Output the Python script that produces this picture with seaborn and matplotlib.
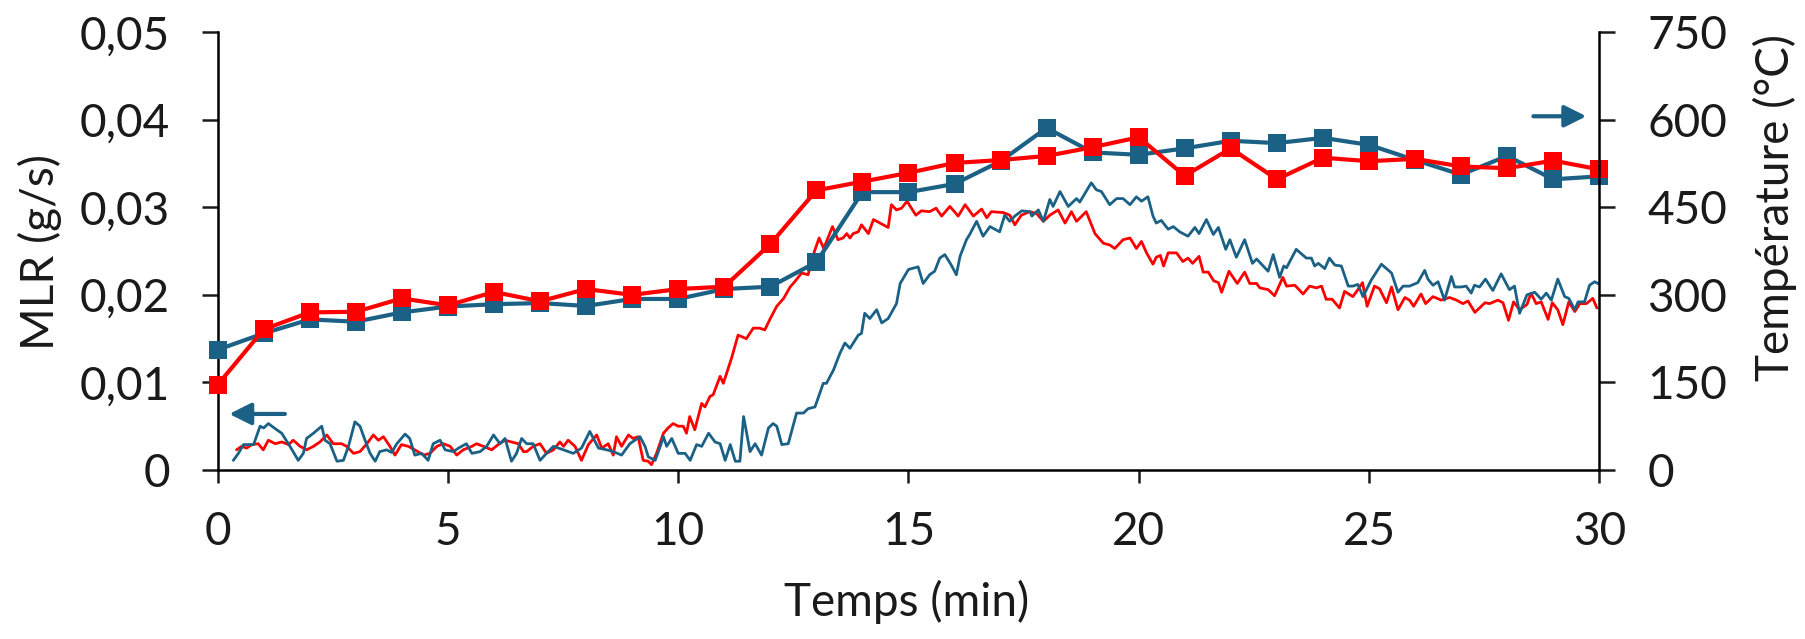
import matplotlib
matplotlib.use("Agg")
import matplotlib.pyplot as plt
import seaborn as sns
import numpy as np

# ---------------- data ----------------
temp_time = list(range(0, 31))
temp_blue = [206, 234, 258, 254, 270, 280, 284, 286, 281, 293, 293, 310, 314, 356, 476,
             476, 490, 529, 586, 544, 540, 551, 564, 560, 569, 557, 531, 506, 538, 498, 503]
temp_red = [146, 241, 270, 271, 294, 282, 305, 289, 310, 300, 310, 314, 387, 479, 494,
            509, 526, 531, 538, 553, 570, 504, 551, 498, 535, 529, 533, 520, 517, 530, 515]

mlr_blue_t = [0.34, 0.45, 0.56, 0.78, 0.92, 1.00, 1.10, 1.28, 1.39, 1.57, 1.75, 1.86, 1.93, 2.08,
              2.26, 2.33, 2.44, 2.59, 2.73, 2.84, 2.98, 3.09, 3.20, 3.31, 3.42, 3.52, 3.67, 3.78,
              3.89, 4.07, 4.17, 4.28, 4.43, 4.57, 4.68, 4.83, 4.94, 5.12, 5.23, 5.40, 5.52, 5.70,
              5.84, 5.99, 6.13, 6.24, 6.38, 6.49, 6.60, 6.71, 6.85, 7.00, 7.14, 7.29, 7.51, 7.72,
              7.90, 8.08, 8.27, 8.45, 8.59, 8.77, 8.95, 9.17, 9.28, 9.35, 9.50, 9.61, 9.68, 9.75,
              9.86, 10.00, 10.15, 10.26, 10.40, 10.51, 10.66, 10.80, 10.91, 11.02, 11.13, 11.24,
              11.34, 11.42, 11.56, 11.67, 11.81, 11.96, 12.06, 12.14, 12.25, 12.39, 12.57, 12.72,
              12.82, 12.97, 13.15, 13.22, 13.37, 13.51, 13.62, 13.73, 13.91, 13.98, 14.05, 14.16,
              14.31, 14.42, 14.56, 14.74, 14.82, 15.00, 15.21, 15.32, 15.46, 15.57, 15.68, 15.79,
              15.93, 16.04, 16.12, 16.26, 16.33, 16.48, 16.62, 16.77, 16.98, 17.09, 17.20, 17.31,
              17.46, 17.64, 17.68, 17.82, 17.93, 18.07, 18.14, 18.29, 18.47, 18.65, 18.72, 18.97,
              19.08, 19.19, 19.37, 19.52, 19.66, 19.81, 19.95, 20.06, 20.20, 20.31, 20.38, 20.49,
              20.64, 20.75, 20.89, 21.07, 21.22, 21.31, 21.47, 21.62, 21.73, 21.89, 21.98, 22.12,
              22.30, 22.47, 22.56, 22.81, 22.92, 23.06, 23.15, 23.21, 23.42, 23.64, 23.75, 23.82,
              23.90, 24.04, 24.14, 24.26, 24.40, 24.55, 24.65, 24.76, 24.87, 25.05, 25.27, 25.49,
              25.63, 25.74, 25.88, 26.06, 26.21, 26.28, 26.39, 26.50, 26.64, 26.79, 26.86, 27.00,
              27.11, 27.22, 27.29, 27.40, 27.53, 27.69, 27.87, 28.05, 28.16, 28.27, 28.43, 28.60,
              28.74, 28.85, 28.96, 29.10, 29.25, 29.34, 29.47, 29.54, 29.68, 29.79, 29.90, 29.97]
mlr_blue = [0.0011, 0.0019, 0.0029, 0.0029, 0.0050, 0.0048, 0.0053, 0.0046, 0.0042, 0.0027,
            0.0011, 0.0019, 0.0036, 0.0042, 0.0050, 0.0034, 0.0030, 0.0010, 0.0011, 0.0027,
            0.0055, 0.0050, 0.0034, 0.0019, 0.0010, 0.0021, 0.0023, 0.0020, 0.0030, 0.0041,
            0.0036, 0.0017, 0.0019, 0.0011, 0.0030, 0.0034, 0.0023, 0.0021, 0.0025, 0.0030,
            0.0019, 0.0021, 0.0027, 0.0040, 0.0030, 0.0036, 0.0010, 0.0019, 0.0036, 0.0030,
            0.0030, 0.0011, 0.0019, 0.0027, 0.0023, 0.0019, 0.0025, 0.0044, 0.0025, 0.0023,
            0.0021, 0.0017, 0.0030, 0.0038, 0.0027, 0.0015, 0.0011, 0.0027, 0.0038, 0.0027,
            0.0036, 0.0019, 0.0019, 0.0011, 0.0029, 0.0027, 0.0042, 0.0032, 0.0030, 0.0011,
            0.0029, 0.0010, 0.0010, 0.0061, 0.0021, 0.0030, 0.0017, 0.0048, 0.0053, 0.0050,
            0.0029, 0.0030, 0.0065, 0.0065, 0.0070, 0.0072, 0.0099, 0.0099, 0.0114, 0.0133,
            0.0145, 0.0139, 0.0154, 0.0156, 0.0179, 0.0173, 0.0183, 0.0168, 0.0173, 0.0190,
            0.0213, 0.0229, 0.0232, 0.0213, 0.0223, 0.0227, 0.0242, 0.0246, 0.0234, 0.0223,
            0.0244, 0.0263, 0.0269, 0.0284, 0.0267, 0.0278, 0.0272, 0.0291, 0.0284, 0.0290,
            0.0296, 0.0295, 0.0290, 0.0297, 0.0284, 0.0309, 0.0301, 0.0318, 0.0301, 0.0310,
            0.0306, 0.0328, 0.0320, 0.0318, 0.0303, 0.0310, 0.0310, 0.0303, 0.0312, 0.0307,
            0.0312, 0.0290, 0.0282, 0.0285, 0.0275, 0.0278, 0.0272, 0.0267, 0.0277, 0.0270,
            0.0286, 0.0269, 0.0277, 0.0252, 0.0263, 0.0243, 0.0263, 0.0236, 0.0241, 0.0227,
            0.0246, 0.0220, 0.0233, 0.0231, 0.0252, 0.0242, 0.0242, 0.0233, 0.0236, 0.0230,
            0.0242, 0.0234, 0.0233, 0.0210, 0.0210, 0.0212, 0.0198, 0.0217, 0.0235, 0.0225,
            0.0203, 0.0210, 0.0210, 0.0214, 0.0228, 0.0218, 0.0211, 0.0215, 0.0194, 0.0221,
            0.0209, 0.0209, 0.0210, 0.0202, 0.0211, 0.0209, 0.0218, 0.0205, 0.0224, 0.0206,
            0.0210, 0.0179, 0.0200, 0.0203, 0.0195, 0.0202, 0.0194, 0.0218, 0.0198, 0.0196,
            0.0183, 0.0192, 0.0192, 0.0211, 0.0215, 0.0213]

mlr_red_t = [0.41, 0.52, 0.63, 0.74, 0.88, 0.99, 1.10, 1.25, 1.39, 1.54, 1.64, 1.79, 1.93, 2.08,
             2.22, 2.37, 2.51, 2.69, 2.80, 2.95, 3.09, 3.24, 3.38, 3.49, 3.60, 3.74, 3.85, 3.99,
             4.14, 4.28, 4.47, 4.61, 4.76, 4.90, 5.05, 5.19, 5.33, 5.52, 5.62, 5.77, 5.95, 6.09,
             6.24, 6.38, 6.53, 6.64, 6.71, 6.85, 7.00, 7.14, 7.29, 7.43, 7.51, 7.61, 7.76, 7.90,
             8.05, 8.23, 8.34, 8.48, 8.59, 8.66, 8.77, 8.92, 9.02, 9.13, 9.24, 9.35, 9.42, 9.53,
             9.68, 9.78, 9.89, 10.00, 10.11, 10.18, 10.25, 10.36, 10.51, 10.58, 10.69, 10.76,
             10.91, 10.98, 11.16, 11.30, 11.48, 11.63, 11.77, 11.88, 12.00, 12.14, 12.29, 12.43,
             12.53, 12.68, 12.82, 12.96, 13.06, 13.16, 13.35, 13.47, 13.58, 13.66, 13.73, 13.80,
             13.91, 13.98, 14.13, 14.24, 14.38, 14.56, 14.63, 14.74, 14.85, 14.97, 15.16, 15.28,
             15.46, 15.60, 15.72, 15.90, 16.08, 16.23, 16.41, 16.59, 16.70, 16.80, 17.06, 17.20,
             17.31, 17.45, 17.63, 17.78, 17.93, 18.07, 18.25, 18.40, 18.54, 18.65, 18.86, 19.05,
             19.23, 19.37, 19.48, 19.66, 19.81, 19.95, 20.06, 20.17, 20.31, 20.38, 20.47, 20.54,
             20.64, 20.82, 20.96, 21.07, 21.17, 21.31, 21.40, 21.51, 21.63, 21.73, 21.80, 21.96,
             22.14, 22.30, 22.41, 22.56, 22.63, 22.81, 22.95, 23.13, 23.21, 23.39, 23.57, 23.71,
             23.86, 23.97, 24.07, 24.20, 24.36, 24.47, 24.65, 24.76, 24.86, 24.96, 25.12, 25.23,
             25.38, 25.49, 25.63, 25.78, 25.88, 25.97, 26.13, 26.23, 26.39, 26.57, 26.75, 26.90,
             27.04, 27.15, 27.30, 27.52, 27.62, 27.80, 27.91, 28.03, 28.14, 28.27, 28.43, 28.52,
             28.63, 28.74, 28.89, 28.98, 29.10, 29.21, 29.34, 29.47, 29.58, 29.72, 29.86, 29.95]
mlr_red = [0.0023, 0.0027, 0.0025, 0.0029, 0.0030, 0.0023, 0.0034, 0.0030, 0.0032, 0.0029,
           0.0034, 0.0027, 0.0023, 0.0027, 0.0032, 0.0040, 0.0030, 0.0030, 0.0027, 0.0019,
           0.0021, 0.0030, 0.0040, 0.0034, 0.0038, 0.0027, 0.0017, 0.0029, 0.0027, 0.0023,
           0.0017, 0.0019, 0.0027, 0.0030, 0.0027, 0.0017, 0.0023, 0.0027, 0.0030, 0.0027,
           0.0023, 0.0029, 0.0034, 0.0032, 0.0030, 0.0021, 0.0021, 0.0027, 0.0030, 0.0019,
           0.0023, 0.0032, 0.0027, 0.0034, 0.0027, 0.0011, 0.0029, 0.0040, 0.0025, 0.0030,
           0.0017, 0.0038, 0.0027, 0.0040, 0.0036, 0.0038, 0.0011, 0.0010, 0.0006, 0.0019,
           0.0042, 0.0048, 0.0053, 0.0050, 0.0050, 0.0042, 0.0061, 0.0046, 0.0076, 0.0072,
           0.0084, 0.0086, 0.0107, 0.0099, 0.0128, 0.0154, 0.0150, 0.0162, 0.0162, 0.0160,
           0.0173, 0.0187, 0.0196, 0.0209, 0.0215, 0.0225, 0.0223, 0.0250, 0.0265, 0.0253,
           0.0278, 0.0263, 0.0265, 0.0270, 0.0265, 0.0270, 0.0272, 0.0280, 0.0270, 0.0286,
           0.0282, 0.0277, 0.0303, 0.0297, 0.0299, 0.0307, 0.0291, 0.0296, 0.0295, 0.0299,
           0.0290, 0.0301, 0.0290, 0.0303, 0.0290, 0.0298, 0.0288, 0.0295, 0.0294, 0.0291,
           0.0280, 0.0291, 0.0295, 0.0293, 0.0284, 0.0291, 0.0297, 0.0282, 0.0295, 0.0284,
           0.0295, 0.0270, 0.0259, 0.0257, 0.0253, 0.0263, 0.0265, 0.0253, 0.0261, 0.0248,
           0.0235, 0.0243, 0.0245, 0.0233, 0.0248, 0.0248, 0.0238, 0.0242, 0.0236, 0.0244,
           0.0226, 0.0226, 0.0216, 0.0214, 0.0203, 0.0227, 0.0213, 0.0226, 0.0213, 0.0213,
           0.0208, 0.0206, 0.0199, 0.0220, 0.0210, 0.0211, 0.0201, 0.0210, 0.0208, 0.0210,
           0.0195, 0.0195, 0.0185, 0.0204, 0.0198, 0.0206, 0.0214, 0.0187, 0.0210, 0.0207,
           0.0191, 0.0209, 0.0183, 0.0197, 0.0194, 0.0187, 0.0201, 0.0190, 0.0198, 0.0194,
           0.0197, 0.0194, 0.0190, 0.0193, 0.0180, 0.0191, 0.0190, 0.0194, 0.0191, 0.0171,
           0.0192, 0.0183, 0.0189, 0.0202, 0.0190, 0.0192, 0.0172, 0.0191, 0.0183, 0.0166,
           0.0192, 0.0181, 0.0190, 0.0190, 0.0196, 0.0185]

x_ticks = [0, 5, 10, 15, 20, 25, 30]
mlr_ticks = [0, 0.01, 0.02, 0.03, 0.04, 0.05]
mlr_tick_labels = ["0", "0,01", "0,02", "0,03", "0,04", "0,05"]
temp_ticks = [0, 150, 300, 450, 600, 750]

BLUE = "#1A6185"
RED = "#FF0000"
TXT = "#1a1a1a"

# ---------------- style ----------------
sns.set_theme(style="white")
plt.rcParams["font.family"] = ["Lato", "DejaVu Sans"]
plt.rcParams["text.color"] = TXT
plt.rcParams["axes.labelcolor"] = TXT
plt.rcParams["xtick.color"] = TXT
plt.rcParams["ytick.color"] = TXT

fig = plt.figure(figsize=(18.05, 6.39), dpi=100)
ax = fig.add_axes([0.1206, 0.2645, 0.7654, 0.6851])
ax2 = ax.twinx()

# MLR (left axis)
sns.lineplot(x=mlr_red_t, y=mlr_red, ax=ax, color=RED, linewidth=2.0, estimator=None, sort=False)
sns.lineplot(x=mlr_blue_t, y=mlr_blue, ax=ax, color=BLUE, linewidth=2.0, estimator=None, sort=False)

# Temperature (right axis)
for vals, col in [(temp_blue, BLUE), (temp_red, RED)]:
    sns.lineplot(x=temp_time, y=vals, ax=ax2, color=col, linewidth=3.0, marker="s",
                 markersize=13, markeredgewidth=0, estimator=None, sort=False)
for ln in ax2.lines:
    ln.set_clip_on(False)

ax.set_xlim(0, 30)
ax.set_ylim(0, 0.05)
ax2.set_ylim(0, 750)

ax.set_xticks(x_ticks)
ax.set_xticklabels([str(v) for v in x_ticks])
ax.set_yticks(mlr_ticks)
ax.set_yticklabels(mlr_tick_labels)
ax2.set_yticks(temp_ticks)
ax2.set_yticklabels([str(v) for v in temp_ticks])

FS = 33
for a in (ax, ax2):
    for s in a.spines.values():
        s.set_linewidth(1.8)
        s.set_color("black")
    a.spines["top"].set_visible(False)
    a.grid(False)
ax.spines["right"].set_visible(False)
ax2.spines["left"].set_visible(False)
ax2.spines["bottom"].set_visible(False)

ax.tick_params(axis="y", direction="out", length=11.5, width=1.8, pad=23, labelsize=FS, left=True)
ax.tick_params(axis="x", direction="out", length=9.5, width=1.8, pad=20, labelsize=FS, bottom=True)
ax2.tick_params(axis="y", direction="out", length=11.5, width=1.8, pad=23, labelsize=FS, right=True)

ax.set_xlabel("Temps (min)", fontsize=FS, va="center", ha="center")
ax.set_ylabel("MLR (g/s)", fontsize=FS, va="center", ha="center")
ax2.set_ylabel("Température (°C)", fontsize=FS, va="center", ha="center")
ax.xaxis.set_label_coords(0.4988, -0.302)
ax.yaxis.set_label_coords(-0.1286, 0.498)
ax2.yaxis.set_label_coords(1.127, 0.599)

# arrows indicating axes
arrow_style = "-|>,head_length=1.1,head_width=0.55"
ax.annotate("", xy=(0.25, 0.0064), xytext=(1.46, 0.0064),
            arrowprops=dict(arrowstyle=arrow_style, color=BLUE, lw=3.0, shrinkA=0, shrinkB=0))
ax2.annotate("", xy=(29.72, 606), xytext=(28.57, 606),
             arrowprops=dict(arrowstyle=arrow_style, color=BLUE, lw=3.0, shrinkA=0, shrinkB=0))

ax.set_zorder(1)
ax2.set_zorder(2)

fig.savefig("out.png", dpi=100)
